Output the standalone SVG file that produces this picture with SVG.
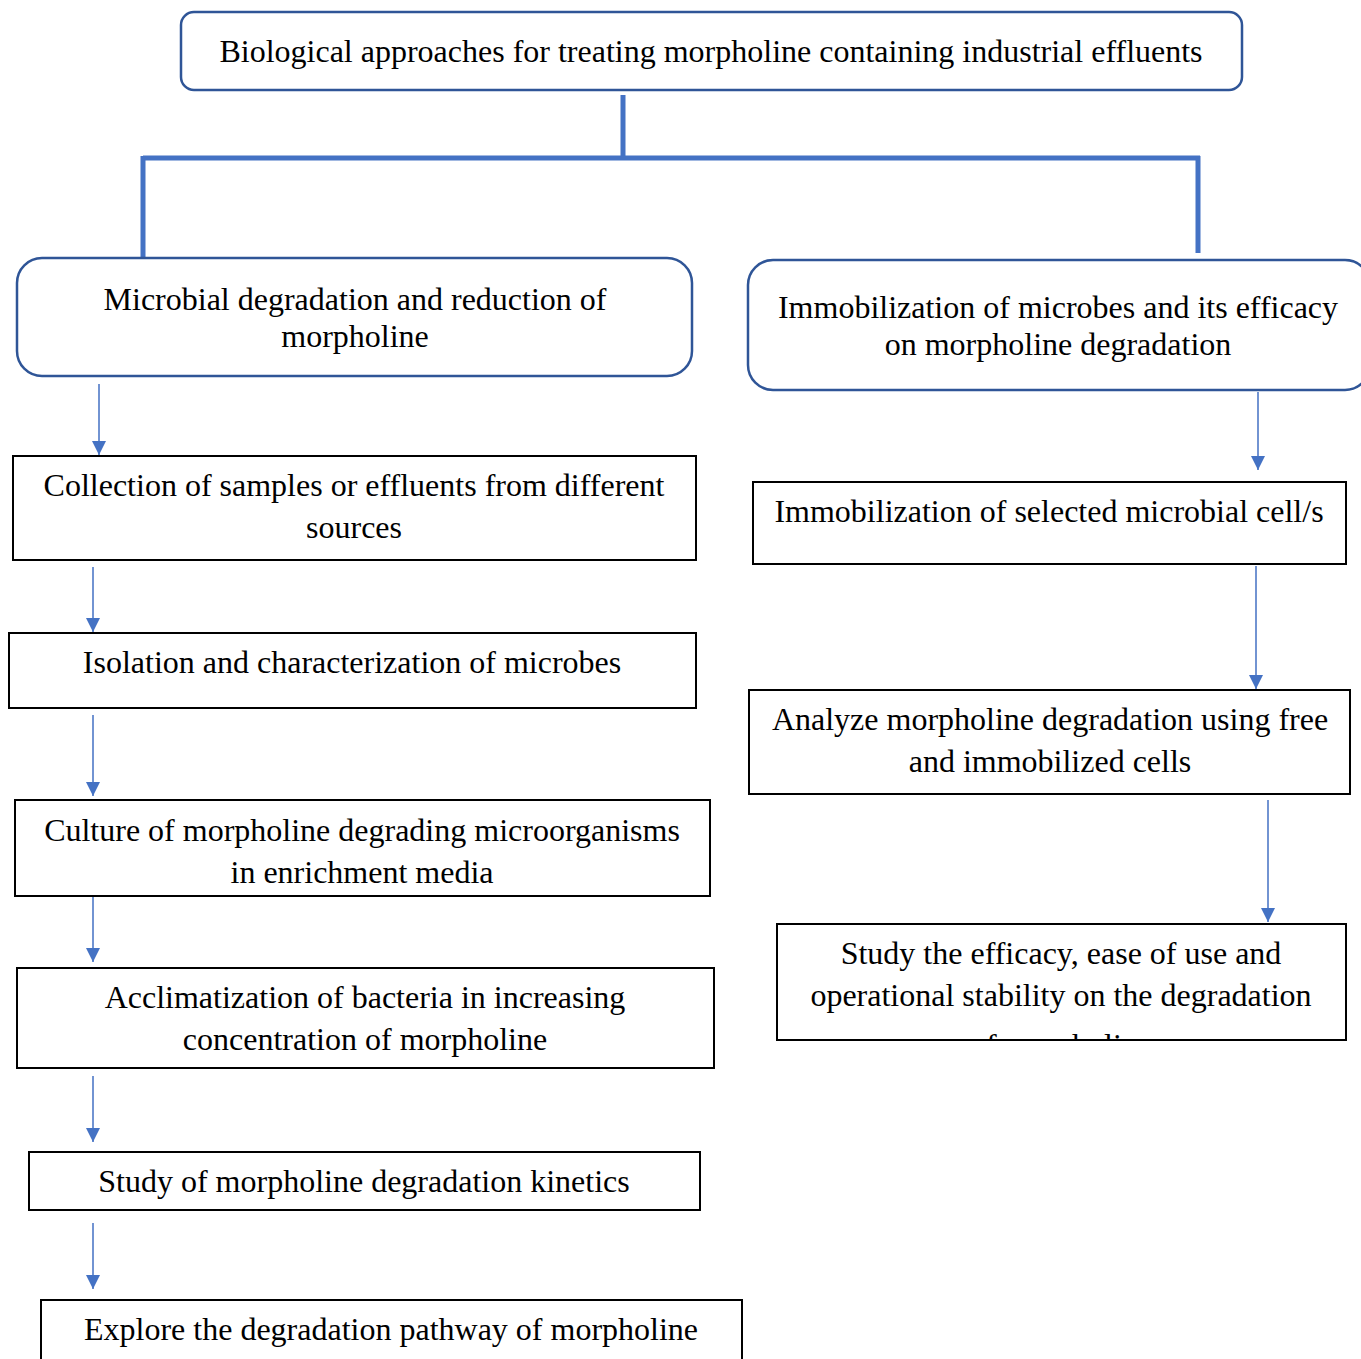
<svg xmlns="http://www.w3.org/2000/svg" width="1361" height="1359" viewBox="0 0 1361 1359">
<style>
text{font-family:"Liberation Serif","Times New Roman",serif;font-size:32px;fill:#000;text-anchor:middle}
.rb{fill:#fff;stroke:#2F5597;stroke-width:2.5}
.bx{fill:#fff;stroke:#000;stroke-width:2}
.thick{stroke:#4472C4;stroke-width:5;fill:none}
</style>
<defs>
<clipPath id="clipR3"><rect x="778" y="925" width="567" height="114"/></clipPath>
</defs>
<rect width="1361" height="1359" fill="#fff"/>
<g id="connectors">
<path class="thick" d="M623,95 V158 M143,158 H1200 M143,156 V257 M1198,156 V253"/>
<path d="M99,384 V455 M93,567 V632 M93,715 V796 M93,897 V962 M93,1076 V1142 M93,1223 V1289 M1258,392 V470 M1256,566 V689 M1268,800 V922" stroke="#4472C4" stroke-width="1.5" fill="none"/>
<g fill="#4472C4">
<path d="M92,441 L106,441 L99,455 Z"/>
<path d="M86,618 L100,618 L93,632 Z"/>
<path d="M86,782 L100,782 L93,796 Z"/>
<path d="M86,948 L100,948 L93,962 Z"/>
<path d="M86,1128 L100,1128 L93,1142 Z"/>
<path d="M86,1275 L100,1275 L93,1289 Z"/>
<path d="M1251,456 L1265,456 L1258,470 Z"/>
<path d="M1249,675 L1263,675 L1256,689 Z"/>
<path d="M1261,908 L1275,908 L1268,922 Z"/>
</g>
</g>
<g id="root">
<rect class="rb" x="181" y="12" width="1061" height="78" rx="13"/>
<text x="711" y="62">Biological approaches for treating morpholine containing industrial effluents</text>
</g>
<g id="microbial">
<rect class="rb" x="17" y="258" width="675" height="118" rx="25"/>
<text x="355" y="310">Microbial degradation and reduction of</text>
<text x="355" y="347">morpholine</text>
</g>
<g id="immobilization">
<rect class="rb" x="748" y="260" width="622" height="130" rx="25"/>
<text x="1058" y="318">Immobilization of microbes and its efficacy</text>
<text x="1058" y="355">on morpholine degradation</text>
</g>
<g id="collection">
<rect class="bx" x="13" y="456" width="683" height="104"/>
<text x="354" y="496">Collection of samples or effluents from different</text>
<text x="354" y="538">sources</text>
</g>
<g id="isolation">
<rect class="bx" x="9" y="633" width="687" height="75"/>
<text x="352" y="673">Isolation and characterization of microbes</text>
</g>
<g id="culture">
<rect class="bx" x="15" y="800" width="695" height="96"/>
<text x="362" y="841">Culture of morpholine degrading microorganisms</text>
<text x="362" y="883">in enrichment media</text>
</g>
<g id="acclimatization">
<rect class="bx" x="17" y="968" width="697" height="100"/>
<text x="365" y="1008">Acclimatization of bacteria in increasing</text>
<text x="365" y="1050">concentration of morpholine</text>
</g>
<g id="kinetics">
<rect class="bx" x="29" y="1152" width="671" height="58"/>
<text x="364" y="1192">Study of morpholine degradation kinetics</text>
</g>
<g id="pathway">
<rect class="bx" x="41" y="1300" width="701" height="80"/>
<text x="391" y="1340">Explore the degradation pathway of morpholine</text>
</g>
<g id="immob-cells">
<rect class="bx" x="753" y="482" width="593" height="82"/>
<text x="1049" y="522">Immobilization of selected microbial cell/s</text>
</g>
<g id="analyze">
<rect class="bx" x="749" y="690" width="601" height="104"/>
<text x="1050" y="730">Analyze morpholine degradation using free</text>
<text x="1050" y="772">and immobilized cells</text>
</g>
<g id="efficacy">
<rect class="bx" x="777" y="924" width="569" height="116"/>
<g clip-path="url(#clipR3)">
<text x="1061" y="964">Study the efficacy, ease of use and</text>
<text x="1061" y="1006">operational stability on the degradation</text>
<text x="1061" y="1056">of morpholine</text>
</g>
</g>
</svg>
